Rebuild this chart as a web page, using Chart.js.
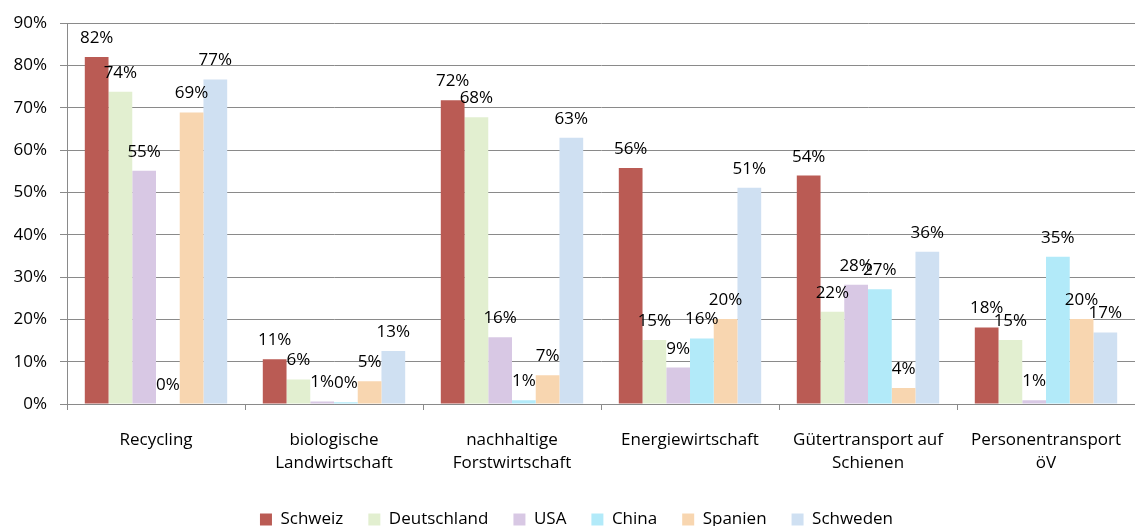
<!DOCTYPE html>
<html>
<head>
<meta charset="utf-8">
<script src="https://cdn.jsdelivr.net/npm/chart.js@4"></script>
<style>
    body { margin: 0; background: #fff; }
    #wrap { width: 1135px; height: 526px; }
</style>
</head>
<body>
<div id="wrap"><canvas id="barChart"></canvas></div>
<script>
// Categories (x axis), multi line labels
const categories = [
    ["Recycling"],
    ["biologische", "Landwirtschaft"],
    ["nachhaltige", "Forstwirtschaft"],
    ["Energiewirtschaft"],
    ["Gütertransport auf", "Schienen"],
    ["Personentransport", "öV"]
];

// Series values in percent
const schweiz     = [82.0, 10.6, 71.8, 55.8, 54.0, 18.1];
const deutschland = [73.8, 5.8, 67.8, 15.1, 21.8, 15.1];
const usa         = [55.1, 0.6, 15.8, 8.6, 28.2, 0.9];
const china       = [0.0, 0.4, 0.9, 15.5, 27.1, 34.8];
const spanien     = [68.9, 5.4, 6.8, 20.1, 3.8, 20.1];
const schweden    = [76.7, 12.5, 62.9, 51.1, 36.0, 16.9];

const seriesNames = ["Schweiz", "Deutschland", "USA", "China", "Spanien", "Schweden"];
const seriesColors = ["#BA5B54", "#E2EFD0", "#D8C8E4", "#B2EAF9", "#F8D6B0", "#CFE0F2"];

// Y axis ticks 0% .. 90%
const yMax = 90;
const yStep = 10;

const fontFamily = "'Open Sans', sans-serif";
const gridColor = "#8a8a8a";

// Draws the rounded value above each bar (like the excel data labels)
const valueLabels = {
    id: 'valueLabels',
    afterDatasetsDraw(chart) {
        let ctx = chart.ctx;
        ctx.save();
        ctx.font = "17px " + fontFamily;
        ctx.fillStyle = "#000";
        ctx.textAlign = "center";
        ctx.textBaseline = "alphabetic";
        chart.data.datasets.forEach((ds, i) => {
            chart.getDatasetMeta(i).data.forEach((bar, j) => {
                ctx.fillText(Math.round(ds.data[j]) + "%", bar.x, bar.y - 14);
            });
        });
        ctx.restore();
    }
};

let allSeries = [schweiz, deutschland, usa, china, spanien, schweden];
let datasets = [];
allSeries.forEach((values, i) => {
    datasets.push({
        label: seriesNames[i],
        data: values,
        backgroundColor: seriesColors[i],
        borderWidth: 0
    });
});

new Chart(document.getElementById('barChart'), {
    type: 'bar',
    data: {
        labels: categories,
        datasets: datasets
    },
    plugins: [valueLabels],
    options: {
        responsive: true,
        maintainAspectRatio: false,
        animation: false,
        categoryPercentage: 0.8,
        barPercentage: 1.0,
        layout: {
            // plot area runs a bit past the right edge in the original
            padding: { top: 20, right: -4, left: 14, bottom: -12 }
        },
        plugins: {
            legend: {
                position: 'bottom',
                labels: {
                    boxWidth: 12,
                    boxHeight: 12,
                    padding: 25,
                    color: "#000",
                    font: { family: fontFamily, size: 17 }
                }
            },
            tooltip: { enabled: false }
        },
        scales: {
            x: {
                grid: {
                    offset: true,
                    drawOnChartArea: false,
                    drawTicks: true,
                    tickLength: 6,
                    color: gridColor
                },
                border: { display: true, color: gridColor },
                ticks: {
                    color: "#000",
                    padding: 19,
                    maxRotation: 0,
                    autoSkip: false,
                    font: { family: fontFamily, size: 17, lineHeight: 1.35 }
                },
                afterFit(scale) {
                    scale.height = 82;
                    // no extra side padding for the outer labels
                    scale.paddingLeft = 0;
                    scale.paddingRight = 0;
                }
            },
            y: {
                min: 0,
                max: yMax,
                grid: {
                    color: gridColor,
                    tickLength: 7
                },
                border: { display: true, color: gridColor },
                ticks: {
                    stepSize: yStep,
                    color: "#000",
                    padding: 13,
                    font: { family: fontFamily, size: 17 },
                    callback: (v) => v + "%"
                },
                afterFit(scale) {
                    scale.width = 53;
                }
            }
        }
    }
});
</script>
</body>
</html>
